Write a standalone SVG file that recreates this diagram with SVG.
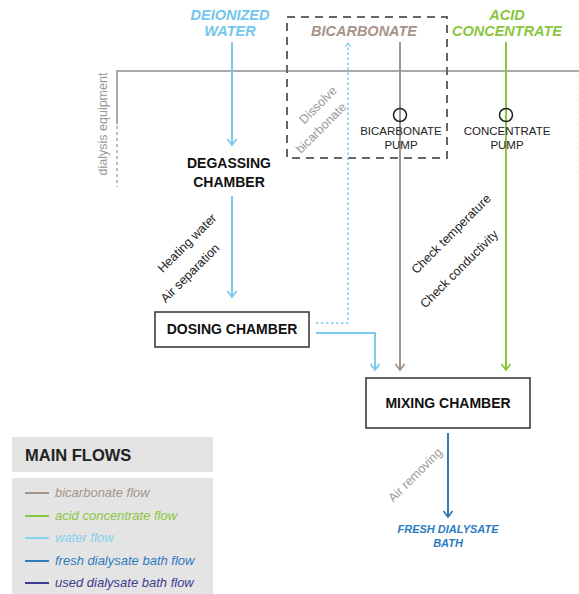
<svg xmlns="http://www.w3.org/2000/svg" width="579" height="594" viewBox="0 0 579 594">
<defs>
<style>
text{font-family:"Liberation Sans",Arial,sans-serif}
.box{fill:#fff;stroke:#333;stroke-width:1.5}
.lbl{font-size:14px;font-weight:bold;fill:#111;text-anchor:middle}
.head{font-size:14.5px;font-weight:bold;font-style:italic;text-anchor:middle}
.pump{font-size:11.5px;fill:#222;text-anchor:middle}
.note{font-size:12.5px;text-anchor:middle}
.leg{font-size:13px;font-style:italic}
.water{stroke:#7cc8ee;stroke-width:2;fill:none}
.bic{stroke:#a69489;stroke-width:2;fill:none}
.acid{stroke:#8cc63f;stroke-width:2;fill:none}
.fresh{stroke:#2b7bbf;stroke-width:2;fill:none}
</style>
<marker id="mw" viewBox="-8 -6 10 12" refX="0" refY="0" markerWidth="10" markerHeight="12" markerUnits="userSpaceOnUse" orient="auto"><path d="M-6,-4.5 L0,0 L-6,4.5" fill="none" stroke="#7cc8ee" stroke-width="1.8"/></marker>
<marker id="mb" viewBox="-8 -6 10 12" refX="0" refY="0" markerWidth="10" markerHeight="12" markerUnits="userSpaceOnUse" orient="auto"><path d="M-6,-4.5 L0,0 L-6,4.5" fill="none" stroke="#a69489" stroke-width="1.8"/></marker>
<marker id="ma" viewBox="-8 -6 10 12" refX="0" refY="0" markerWidth="10" markerHeight="12" markerUnits="userSpaceOnUse" orient="auto"><path d="M-6,-4.5 L0,0 L-6,4.5" fill="none" stroke="#8cc63f" stroke-width="1.8"/></marker>
<marker id="mf" viewBox="-8 -6 10 12" refX="0" refY="0" markerWidth="10" markerHeight="12" markerUnits="userSpaceOnUse" orient="auto"><path d="M-6,-4.5 L0,0 L-6,4.5" fill="none" stroke="#2b7bbf" stroke-width="1.8"/></marker>
<marker id="md" viewBox="-8 -6 10 12" refX="0" refY="0" markerWidth="8" markerHeight="10" markerUnits="userSpaceOnUse" orient="auto"><path d="M-5,-3.5 L0,0 L-5,3.5" fill="none" stroke="#7cc8ee" stroke-width="1.4"/></marker>
</defs>
<rect width="579" height="594" fill="#fff"/>

<g id="equipment">
<path d="M117,124 V71 H579" fill="none" stroke="#aaa" stroke-width="2"/>
<path d="M117,126 V187" fill="none" stroke="#aaa" stroke-width="1.5" stroke-dasharray="3 3"/>
<path d="M577,75 V190" fill="none" stroke="#eee" stroke-width="1" stroke-dasharray="3 3"/>
<text x="0" y="0" transform="translate(107,124) rotate(-90)" font-size="12.5" fill="#999" text-anchor="middle">dialysis equipment</text>
</g>

<g id="bicarbonate-zone">
<rect x="287" y="17" width="160" height="141" fill="none" stroke="#666" stroke-width="2" stroke-dasharray="8 6"/>
<text class="note" fill="#9a9a9a" transform="translate(321,108) rotate(-45)">Dissolve</text>
<text class="note" fill="#9a9a9a" transform="translate(324,131) rotate(-45)">bicarbonate</text>
</g>

<g id="connectors">
<path class="water" d="M232,42 V145" marker-end="url(#mw)"/>
<path class="water" d="M232,196 V297" marker-end="url(#mw)"/>
<path d="M316,323 H348 V43" fill="none" stroke="#7cc8ee" stroke-width="1.5" stroke-dasharray="2.5 2.5" marker-end="url(#md)"/>
<path class="water" d="M316,333 H375 V370" marker-end="url(#mw)"/>
<path class="bic" d="M400,42 V370" marker-end="url(#mb)"/>
<path class="acid" d="M506,42 V370" marker-end="url(#ma)"/>
<path class="fresh" d="M448,433 V517" marker-end="url(#mf)"/>
</g>

<g id="deionized-water">
<text class="head" fill="#74c6ee" x="230" y="20">DEIONIZED</text>
<text class="head" fill="#74c6ee" x="230" y="36">WATER</text>
</g>
<g id="bicarbonate">
<text class="head" fill="#a69489" x="364" y="36">BICARBONATE</text>
</g>
<g id="acid-concentrate">
<text class="head" fill="#8cc63f" x="507" y="20">ACID</text>
<text class="head" fill="#8cc63f" x="507" y="36">CONCENTRATE</text>
</g>

<g id="bicarbonate-pump">
<circle cx="400" cy="115" r="6.5" fill="none" stroke="#222" stroke-width="1.5"/>
<text class="pump" x="401" y="135">BICARBONATE</text>
<text class="pump" x="401" y="149">PUMP</text>
</g>
<g id="concentrate-pump">
<circle cx="506" cy="115" r="6.5" fill="none" stroke="#222" stroke-width="1.5"/>
<text class="pump" x="507" y="135">CONCENTRATE</text>
<text class="pump" x="507" y="149">PUMP</text>
</g>

<g id="degassing-chamber">
<text class="lbl" x="229" y="168">DEGASSING</text>
<text class="lbl" x="229" y="187">CHAMBER</text>
</g>

<g id="heating-notes">
<text class="note" fill="#222" transform="translate(190,246) rotate(-45)">Heating water</text>
<text class="note" fill="#222" transform="translate(193,276) rotate(-45)">Air separation</text>
</g>

<g id="dosing-chamber">
<rect class="box" x="155" y="312" width="154" height="35"/>
<text class="lbl" x="232" y="334">DOSING CHAMBER</text>
</g>

<g id="check-notes">
<text class="note" fill="#222" transform="translate(454,237) rotate(-45)">Check temperature</text>
<text class="note" fill="#222" transform="translate(462,272) rotate(-45)">Check conductivity</text>
</g>

<g id="mixing-chamber">
<rect class="box" x="366" y="378" width="164" height="50"/>
<text class="lbl" x="448" y="408">MIXING CHAMBER</text>
</g>

<g id="air-removing">
<text class="note" fill="#9a9a9a" transform="translate(418,478) rotate(-45)">Air removing</text>
</g>

<g id="fresh-dialysate">
<text x="448" y="533" font-size="11" font-weight="bold" font-style="italic" fill="#2b7bbf" text-anchor="middle">FRESH DIALYSATE</text>
<text x="448" y="547" font-size="11" font-weight="bold" font-style="italic" fill="#2b7bbf" text-anchor="middle">BATH</text>
</g>

<g id="legend">
<rect x="12" y="437" width="201" height="35" fill="#e4e4e4"/>
<text x="25" y="461" font-size="16.5" font-weight="bold" fill="#222">MAIN FLOWS</text>
<rect x="12" y="478" width="201" height="116" fill="#e4e4e4"/>
<line x1="25" y1="493" x2="49" y2="493" stroke="#a69489" stroke-width="2"/>
<text class="leg" x="55" y="497" fill="#a69489">bicarbonate flow</text>
<line x1="25" y1="516" x2="49" y2="516" stroke="#8cc63f" stroke-width="2"/>
<text class="leg" x="55" y="520" fill="#8cc63f">acid concentrate flow</text>
<line x1="25" y1="538" x2="49" y2="538" stroke="#86d0f0" stroke-width="2"/>
<text class="leg" x="55" y="542" fill="#86d0f0">water flow</text>
<line x1="25" y1="561" x2="49" y2="561" stroke="#2f7bbf" stroke-width="2"/>
<text class="leg" x="55" y="565" fill="#2f7bbf">fresh dialysate bath flow</text>
<line x1="25" y1="583" x2="49" y2="583" stroke="#3c3b8f" stroke-width="2"/>
<text class="leg" x="55" y="587" fill="#3c3b8f">used dialysate bath flow</text>
</g>
</svg>
